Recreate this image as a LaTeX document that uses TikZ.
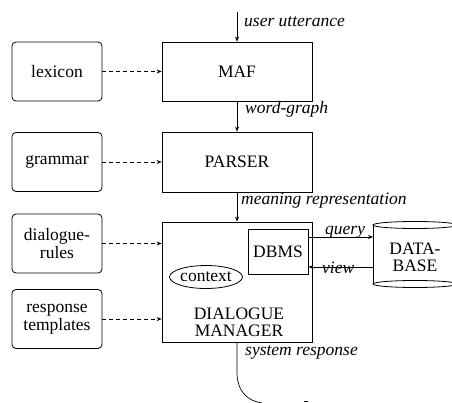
\documentclass[tikz,border=0pt]{standalone}
\usepackage{fontspec}
\setmainfont{Liberation Serif}
\usetikzlibrary{arrows.meta,shapes.geometric}
\begin{document}
\begin{tikzpicture}[x=1pt,y=-1pt,
  every node/.style={font=\fontsize{17.5}{17.5}\selectfont, inner sep=0pt, align=center},
  kbox/.style={draw, rounded corners=4pt, line width=0.8pt, minimum width=90pt, minimum height=59pt},
  mbox/.style={draw, line width=0.8pt},
  lbl/.style={font=\fontsize{17.5}{17.5}\selectfont\itshape, anchor=base west},
  arr/.style={-{Stealth[length=5pt,width=4pt]}, line width=0.7pt},
  darr/.style={arr, dash pattern=on 4pt off 3pt}]
\useasboundingbox (0,0) rectangle (452,403);

% knowledge sources
\node[kbox] (lex) at (57,71.5) {lexicon};
\node[kbox] (gram) at (57,162) {grammar};
\node[kbox] (rules) at (57,243.5) {dialogue-\\rules};
\node[kbox] (resp) at (57,319) {response\\templates};

% main modules
\node[mbox, minimum width=150pt, minimum height=59pt] (maf) at (237,71.5) {MAF};
\node[mbox, minimum width=150pt, minimum height=60pt] (parser) at (237,162) {PARSER};
\node[mbox, minimum width=150pt, minimum height=120pt] (dm) at (237,282) {};
\node (dmtext) at (239,322.5) {DIALOGUE\\MANAGER};
\node[mbox, minimum width=60pt, minimum height=45pt] (dbms) at (278,251.5) {DBMS};
\node[draw, ellipse, line width=0.8pt, minimum width=68pt, minimum height=23pt] (ctx) at (206,277) {context};

% database cylinder
\begin{scope}
\clip (0,0) rectangle (452,403);
\draw[line width=0.8pt] (415,225) ellipse [x radius=42pt, y radius=3.5pt];
\draw[line width=0.8pt] (415,284) ellipse [x radius=42pt, y radius=3.5pt];
\draw[line width=0.8pt] (373,225) -- (373,284);
\draw[line width=0.8pt] (457,225) -- (457,284);
\end{scope}
\node (db) at (415,257.5) {DATA-\\BASE};
\coordinate (dbq) at (373,237);
\coordinate (dbv) at (373,267);

% input / output
\coordinate (in) at (237,12);
\coordinate (out) at (262,403);
\draw[arr] (in) -- (maf.north);
\draw[arr] (maf.south) -- (parser.north);
\draw[arr] (parser.south) -- (dm.north);
\draw[line width=0.7pt] (dm.south) -- (237,372) .. controls (237,392) and (248,401) .. (out);
\draw[line width=0.7pt] (303.5,401) -- (308,401);

% dashed knowledge arrows
\draw[darr] (lex.east) -- (maf.west);
\draw[darr] (gram.east) -- (parser.west);
\draw[darr] (rules.east) -- (rules.east -| dm.west);
\draw[darr] (resp.east) -- (resp.east -| dm.west);

% database arrows
\draw[arr] (dbms.east |- dbq) -- (dbq);
\draw[arr] (dbv) -- (dbms.east |- dbv);

% labels
\node[lbl] at (244,27) {user utterance};
\node[lbl] at (245,114) {word-graph};
\node[lbl] at (241,205) {meaning representation};
\node[lbl] at (245,355) {system response};
\node[lbl] at (325,235) {query};
\node[lbl] at (322,273) {view};
\end{tikzpicture}
\end{document}
